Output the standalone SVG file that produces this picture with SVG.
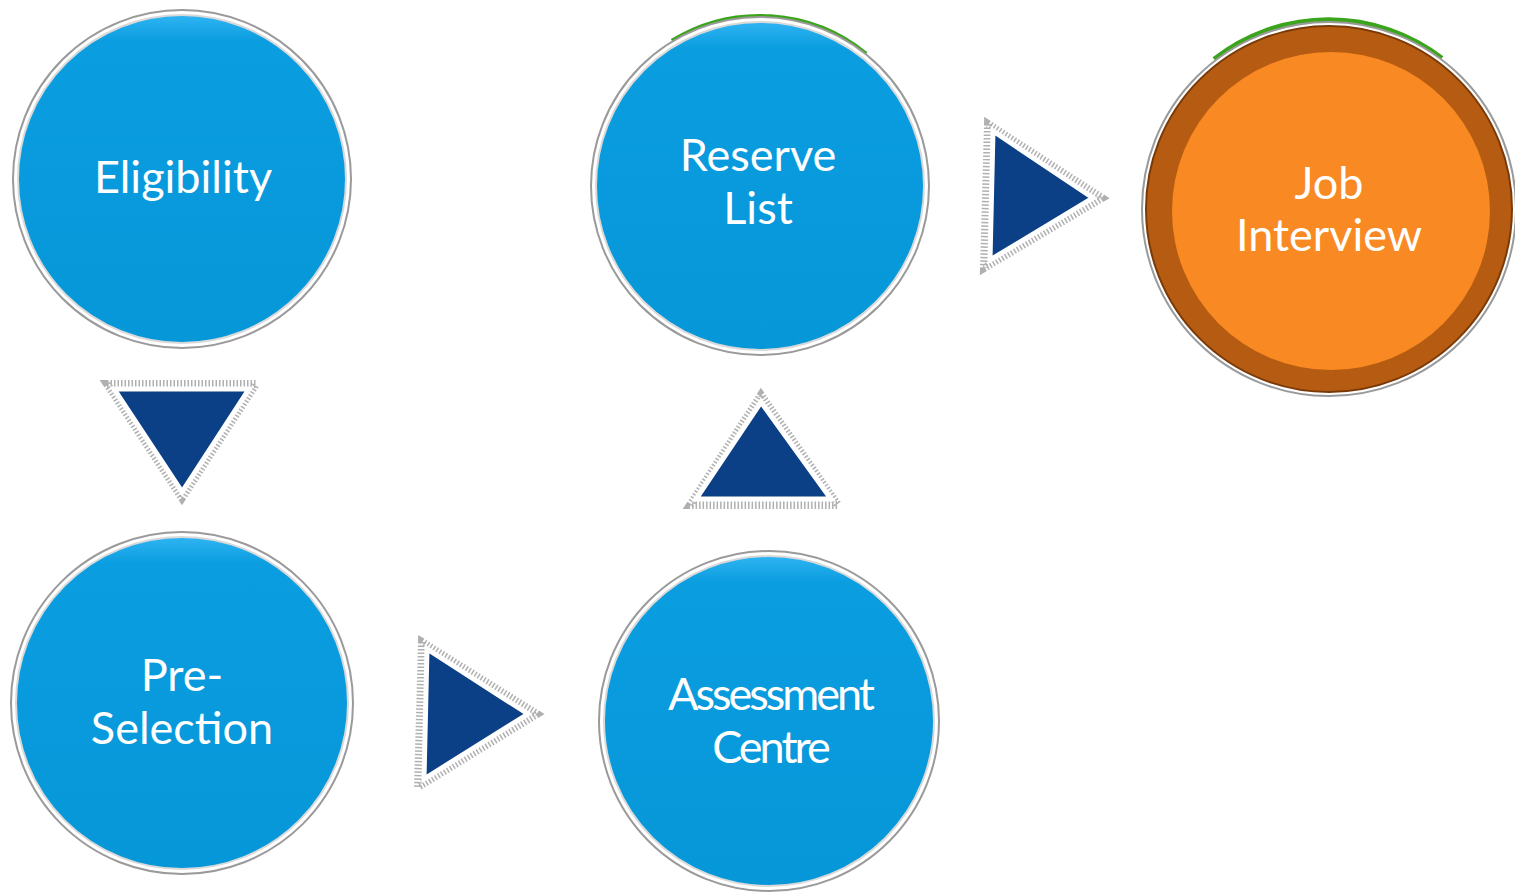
<svg xmlns="http://www.w3.org/2000/svg" width="1515" height="896" viewBox="0 0 1515 896">
<defs>
<style>
.ring{fill:#ffffff;stroke:#9a9a9a;stroke-width:2}
.blue{fill:url(#gBlue);stroke:#d9d9d9;stroke-width:2}
.tri{fill:#0b3f86;stroke:#ffffff;stroke-width:5;stroke-linejoin:miter}
.triout{fill:none;stroke:#b0b0b0;stroke-width:8;stroke-linejoin:miter;stroke-dasharray:1.5 2}
.lbl{font-family:Lato,"Open Sans","Liberation Sans",sans-serif;font-size:45px;fill:#ffffff;text-anchor:middle}
.green{fill:none;stroke:#3aa51b;stroke-width:4.5}
</style>
<linearGradient id="gBlue" x1="0" y1="0" x2="0" y2="1">
<stop offset="0" stop-color="#2fb4f2"/>
<stop offset="0.08" stop-color="#0a9de0"/>
<stop offset="1" stop-color="#0697d8"/>
</linearGradient>
</defs>
<rect width="1515" height="896" fill="#ffffff"/>

<g id="connectors">
<g id="arrow-down">
<polygon class="triout" points="107,384 256,384 182,498"/>
<polygon class="tri" points="114,389 249,389 182,492"/>
</g>
<g id="arrow-right-1">
<polygon class="triout" points="422,642 418,787 537,714"/>
<polygon class="tri" points="427,649 424,779 528,714"/>
</g>
<g id="arrow-up">
<polygon class="triout" points="761,395 690,505 838,505"/>
<polygon class="tri" points="761,402 696,499 831,499"/>
</g>
<g id="arrow-right-2">
<polygon class="triout" points="988,124 984,268 1102,198"/>
<polygon class="tri" points="993,131 990,260 1093,198"/>
</g>
</g>

<g id="node-eligibility">
<circle cx="182" cy="179" r="169" class="ring"/>
<circle cx="182" cy="179" r="164" class="blue"/>
<text class="lbl" x="183" y="193">Eligibility</text>
</g>

<g id="node-reserve-list">
<path class="green" d="M672,41 A168,168 0 0 1 866,54"/>
<circle cx="760" cy="186" r="169" class="ring"/>
<circle cx="760" cy="186" r="164" class="blue"/>
<text class="lbl" x="758" y="171">Reserve</text>
<text class="lbl" x="758" y="224">List</text>
</g>

<g id="node-pre-selection">
<circle cx="182" cy="703" r="171" class="ring"/>
<circle cx="182" cy="703" r="166" class="blue"/>
<text class="lbl" x="182" y="691">Pre-</text>
<text class="lbl" x="182" y="744">Selection</text>
</g>

<g id="node-assessment-centre">
<circle cx="769" cy="721" r="170" class="ring"/>
<circle cx="769" cy="721" r="165" class="blue"/>
<text class="lbl" x="770" y="710" letter-spacing="-3">Assessment</text>
<text class="lbl" x="770" y="763" letter-spacing="-3">Centre</text>
</g>

<g id="node-job-interview">
<path class="green" d="M1214,59 A186,186 0 0 1 1442,58"/>
<circle cx="1329" cy="209" r="187" class="ring"/>
<circle cx="1329" cy="209" r="183" fill="#b65c12" stroke="#7a3a08" stroke-width="2"/>
<circle cx="1331" cy="211" r="159" fill="#f98922"/>
<text class="lbl" x="1329" y="199">Job</text>
<text class="lbl" x="1329" y="251">Interview</text>
</g>
</svg>
